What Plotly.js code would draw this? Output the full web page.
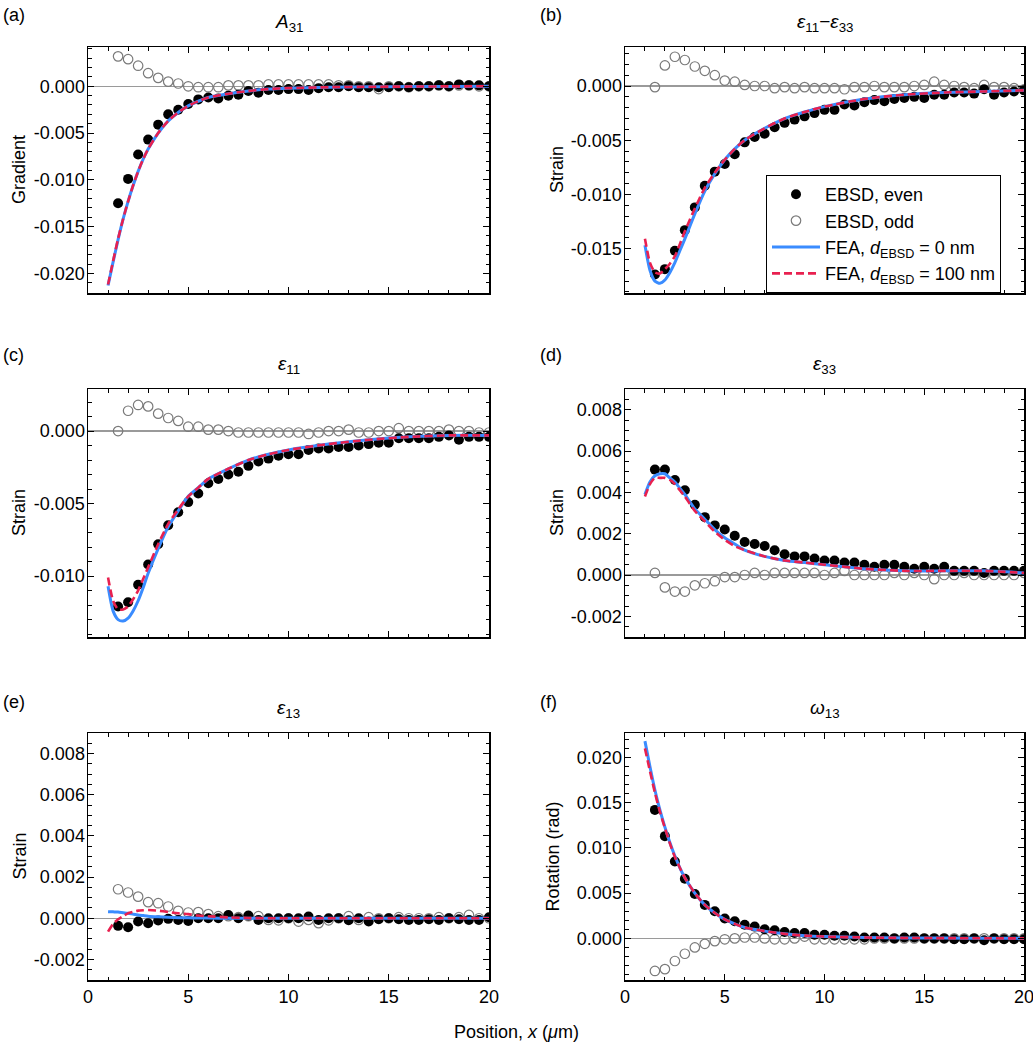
<!DOCTYPE html>
<html>
<head>
<meta charset="utf-8">
<script src="https://cdn.plot.ly/plotly-3.0.1.min.js"></script>
<style>html,body{margin:0;padding:0;background:#fff;}#chart{width:1033px;height:1050px;}</style>
</head>
<body>
<div id="chart"></div>
<script>
// ---------- DATA ----------
const xObs = [1.5,2,2.5,3,3.5,4,4.5,5,5.5,6,6.5,7,7.5,8,8.5,9,9.5,10,10.5,11,11.5,12,12.5,13,13.5,14,14.5,15,15.5,16,16.5,17,17.5,18,18.5,19,19.5,20];
const xFea = [1,1.25,1.5,1.75,2,2.25,2.5,2.75,3,3.5,4,4.5,5,5.5,6,7,8,9,10,12,14,16,18,20];

// (a) A31
const aEven = [-0.0125,-0.0099,-0.0073,-0.0057,-0.0041,-0.0030,-0.0025,-0.0019,-0.0014,-0.0012,-0.0013,-0.0010,-0.0009,-0.0005,-0.0007,-0.0004,-0.0004,-0.0003,-0.0003,-0.0004,-0.0002,-0.0001,-0.0001,0,-0.0001,-0.0001,-0.0001,-0.0001,0,-0.0001,0,0,0.0001,0,0.0002,0.0001,0.0001,0];
const aOdd  = [0.0032,0.0029,0.0022,0.0014,0.0009,0.0005,0.0003,0,-0.0001,-0.0001,-0.0001,0.0001,0.0001,0.0001,0.0001,0.0002,0.0002,0.0002,0.0002,0.0002,0.0002,0.0002,0.0001,0.0001,0,0,-0.0003,0,0,-0.0001,0,0,0.0001,0,0.0001,0.0001,0,0];
const aFea0   = [-0.0213,-0.0188,-0.0164,-0.0142,-0.0123,-0.0106,-0.0091,-0.0078,-0.0067,-0.0050,-0.0037,-0.0028,-0.0021,-0.0016,-0.0012,-0.0008,-0.0005,-0.0003,-0.0002,-0.0001,-0.00005,-0.00003,-0.00001,0];
const aFea100 = [-0.0212,-0.0187,-0.0163,-0.0142,-0.0123,-0.0106,-0.0091,-0.0078,-0.0067,-0.0050,-0.0037,-0.0028,-0.0021,-0.0016,-0.0012,-0.0008,-0.0005,-0.0003,-0.0002,-0.0001,-0.00005,-0.00003,-0.00001,0];

// (b) e11 - e33
const bEven = [-0.0174,-0.0169,-0.0152,-0.0133,-0.0112,-0.0092,-0.0079,-0.0072,-0.0063,-0.0052,-0.0047,-0.0044,-0.0038,-0.0034,-0.0031,-0.0028,-0.0025,-0.0022,-0.0022,-0.0017,-0.0018,-0.0015,-0.0013,-0.0014,-0.0012,-0.0011,-0.0010,-0.0011,-0.0008,-0.0008,-0.0006,-0.0006,-0.0007,-0.0003,-0.0008,-0.0006,-0.0005,-0.0004];
const bOdd  = [-0.0001,0.0019,0.0027,0.0024,0.0018,0.0014,0.0010,0.0005,0.0004,0.0001,0,0,-0.0002,-0.0001,-0.0002,-0.0001,-0.0002,-0.0002,-0.0002,-0.0003,-0.0001,-0.0001,0,-0.0001,-0.0001,-0.0001,0,0.0001,0.0004,0.0001,0,-0.0001,-0.0002,0.0001,-0.0001,-0.0001,-0.0002,-0.0003];
const bFea0   = [-0.0147,-0.0170,-0.0180,-0.0182,-0.0179,-0.0172,-0.0163,-0.0152,-0.0141,-0.0118,-0.0097,-0.0081,-0.0068,-0.0058,-0.0050,-0.0039,-0.0030,-0.0024,-0.0019,-0.0012,-0.0008,-0.0006,-0.0005,-0.0004];
const bFea100 = [-0.0141,-0.0163,-0.0172,-0.0173,-0.0169,-0.0164,-0.0157,-0.0146,-0.0134,-0.0113,-0.0094,-0.0080,-0.0068,-0.0058,-0.0050,-0.0039,-0.0030,-0.0024,-0.0019,-0.0012,-0.0008,-0.0006,-0.0005,-0.0004];

// (c) e11
const cEven = [-0.0121,-0.0118,-0.0106,-0.0092,-0.0078,-0.0065,-0.0056,-0.0049,-0.0043,-0.0036,-0.0033,-0.0030,-0.0028,-0.0024,-0.0021,-0.0019,-0.0017,-0.0016,-0.0016,-0.0013,-0.0012,-0.0012,-0.0011,-0.0011,-0.0010,-0.0009,-0.0008,-0.0008,-0.0005,-0.0005,-0.0005,-0.0005,-0.0004,-0.0003,-0.0006,-0.0004,-0.0004,-0.0004];
const cOdd  = [0,0.0014,0.0018,0.0017,0.0012,0.0009,0.0007,0.0003,0.0003,0.0001,0.0001,0,-0.0001,-0.0001,-0.0001,-0.0001,-0.0001,-0.0001,-0.0001,-0.0002,-0.0001,0,0,0.0001,-0.0001,-0.0001,0,0,0.0002,0,0,0,0,0.0001,0,0,-0.0001,-0.0001];
const cFea0   = [-0.0107,-0.0124,-0.0130,-0.0131,-0.0129,-0.0124,-0.0117,-0.0108,-0.0098,-0.0081,-0.0066,-0.0055,-0.0045,-0.0039,-0.0033,-0.0026,-0.0020,-0.0016,-0.0013,-0.0009,-0.0006,-0.0004,-0.0003,-0.0003];
const cFea100 = [-0.0101,-0.0117,-0.0123,-0.0123,-0.0121,-0.0116,-0.0110,-0.0102,-0.0094,-0.0078,-0.0064,-0.0054,-0.0045,-0.0039,-0.0033,-0.0026,-0.0020,-0.0016,-0.0013,-0.0009,-0.0006,-0.0004,-0.0003,-0.0003];

// (d) e33
const dEven = [0.0051,0.0051,0.0046,0.0041,0.0034,0.0028,0.0024,0.0022,0.0019,0.0016,0.0015,0.0014,0.0012,0.0010,0.0009,0.0009,0.0008,0.0007,0.0007,0.0006,0.0006,0.0005,0.0004,0.0005,0.0005,0.0004,0.0003,0.0004,0.0003,0.0004,0.0002,0.0002,0.0002,0.0001,0.0002,0.0002,0.0002,0.0002];
const dOdd  = [0.0001,-0.0006,-0.0008,-0.0008,-0.0005,-0.0004,-0.0003,-0.0001,-0.0001,0,0.0001,0,0.0001,0.0001,0.0001,0.0001,0.0001,0,0.0001,0.0002,0,0,0,0,0.0001,0,0.0001,0,-0.0002,0,0,0.0001,0,0,0,0,0,0.0001];
const dFea0   = [0.0039,0.0045,0.0048,0.0049,0.0049,0.0047,0.0045,0.0042,0.0039,0.0032,0.0027,0.0022,0.0018,0.0015,0.0012,0.0009,0.0007,0.0006,0.0005,0.0003,0.0002,0.0002,0.0002,0.0001];
const dFea100 = [0.0038,0.0044,0.0047,0.0047,0.0047,0.0046,0.0044,0.0041,0.0038,0.0031,0.0026,0.0021,0.0017,0.0014,0.0012,0.0009,0.0007,0.0006,0.0005,0.0003,0.0002,0.0002,0.0002,0.0001];

// (e) e13
const eEven = [-0.00037,-0.00044,-0.00016,-0.00024,-0.00011,-0.00003,-0.00008,-0.00013,0,0,0,0.00016,0,0.00013,-0.00008,0,0,0,0,0.00008,-0.00008,0,0,-0.0001,0,-0.00016,-0.00005,0,-0.00005,-0.00008,-0.00008,-0.00005,-0.00008,0,-0.00005,-0.00008,-0.00008,0.00005];
const eOdd  = [0.00141,0.00125,0.00105,0.00078,0.00073,0.00057,0.00036,0.00028,0.0003,0.0002,0.0001,0.0001,0.00005,0.0001,0.0001,-0.00008,-0.0001,0,-0.00016,-0.00008,-0.00024,-0.0001,0,0.0001,-0.00008,0.00005,0,0,0.00005,0,0,0,0.00005,0,0.00005,0.00016,0,0];
const eFea0   = [0.00032,0.00031,0.0003,0.00027,0.00024,0.0002,0.00016,0.00013,0.0001,0.00007,0.00005,0.00003,0.00002,0.00001,0.00001,0,0,0,0,0,0,0,0,0];
const eFea100 = [-0.00065,-0.00028,-0.00005,0.0001,0.00024,0.00031,0.00037,0.00039,0.0004,0.00037,0.0003,0.00024,0.0002,0.00013,0.0001,0.00004,0.00001,0,0,0,0,0,0,0];

// (f) w13
const fEven = [0.0142,0.0113,0.0085,0.0066,0.0049,0.0037,0.0030,0.0022,0.0019,0.0015,0.0013,0.0010,0.0009,0.0007,0.0006,0.0006,0.0004,0.0004,0.0003,0.0003,0.0002,0.0001,0.0001,0.0001,0,0.0001,0.0001,0,0,0,-0.0001,-0.0001,0,-0.0002,0,-0.0001,-0.0001,-0.0001];
const fOdd  = [-0.0036,-0.0034,-0.0025,-0.0017,-0.0010,-0.0006,-0.0003,-0.0001,0,0.0001,0.0001,0,-0.0001,-0.0001,0,0.0002,-0.0001,-0.0001,-0.0001,-0.0001,-0.0001,-0.0001,0,0,0,0,0,0,0,0,0,0,0,0,0,0,0,0];
const fFea0   = [0.0218,0.0190,0.0164,0.0142,0.0123,0.0106,0.0091,0.0078,0.0067,0.0050,0.0037,0.0028,0.0021,0.0016,0.0012,0.0008,0.0005,0.0003,0.0002,0.0001,0.00005,0.00003,0.00001,0];
const fFea100 = [0.0210,0.0185,0.0161,0.0140,0.0122,0.0105,0.0090,0.0078,0.0067,0.0050,0.0037,0.0028,0.0021,0.0016,0.0012,0.0008,0.0005,0.0003,0.0002,0.0001,0.00005,0.00003,0.00001,0];

// tick labels
const xTickVals = [0,5,10,15,20];
const xTickText = ['0','5','10','15','20'];
const yTickA = [-0.020,-0.015,-0.010,-0.005,0];
const yTickAText = ['-0.020','-0.015','-0.010','-0.005','0.000'];
const yTickB = [-0.015,-0.010,-0.005,0];
const yTickBText = ['-0.015','-0.010','-0.005','0.000'];
const yTickC = [-0.010,-0.005,0];
const yTickCText = ['-0.010','-0.005','0.000'];
const yTickDE = [-0.002,0,0.002,0.004,0.006,0.008];
const yTickDEText = ['-0.002','0.000','0.002','0.004','0.006','0.008'];
const yTickF = [0,0.005,0.010,0.015,0.020];
const yTickFText = ['0.000','0.005','0.010','0.015','0.020'];

const panelLabels = ['(a)','(b)','(c)','(d)','(e)','(f)'];
const panelTitles = ['<i>A</i><sub>31</sub>','<i>ε</i><sub>11</sub>−<i>ε</i><sub>33</sub>','<i>ε</i><sub>11</sub>','<i>ε</i><sub>33</sub>','<i>ε</i><sub>13</sub>','<i>ω</i><sub>13</sub>'];
const yTitles = ['Gradient','Strain','Strain','Strain','Strain','Rotation (rad)'];
const seriesNames = ['EBSD, even','EBSD, odd','FEA, <i>d</i><sub>EBSD</sub> = 0 nm','FEA, <i>d</i><sub>EBSD</sub> = 100 nm'];
const xTitle = 'Position, <i>x</i> (<i>μ</i>m)';

// ---------- STYLE / LAYOUT ----------
const W = 1033, H = 1050;
const FONT = 'Liberation Sans, Arial, sans-serif';
const FS = 18;
const BLUE = '#3a8cff', RED = '#e8204f';

const panels = [
  {even:aEven, odd:aOdd, f0:aFea0, f1:aFea100, range:[-0.0221,0.0042], tv:yTickA, tt:yTickAText, minor:0.001},
  {even:bEven, odd:bOdd, f0:bFea0, f1:bFea100, range:[-0.0191,0.0036], tv:yTickB, tt:yTickBText, minor:0.001},
  {even:cEven, odd:cOdd, f0:cFea0, f1:cFea100, range:[-0.0142,0.0029], tv:yTickC, tt:yTickCText, minor:0.001},
  {even:dEven, odd:dOdd, f0:dFea0, f1:dFea100, range:[-0.0030,0.0090], tv:yTickDE, tt:yTickDEText, minor:0.0005},
  {even:eEven, odd:eOdd, f0:eFea0, f1:eFea100, range:[-0.0030,0.0090], tv:yTickDE, tt:yTickDEText, minor:0.0005},
  {even:fEven, odd:fOdd, f0:fFea0, f1:fFea100, range:[-0.0046,0.0227], tv:yTickF, tt:yTickFText, minor:0.001}
];

// pixel boxes [left, right, top, bottom]
const colX = [[88,489],[625,1024]];
const rowY = [[47,293],[389,637],[733,980]];
const labelPos = [[1,15],[538,15],[1,355],[538,355],[1,702],[538,702]];
const yTitleX = [19,557,19,557,19,552];

const traces = [];
const layout = {
  width: W, height: H,
  margin: {l:0,r:0,t:0,b:0},
  paper_bgcolor:'#fff', plot_bgcolor:'#fff',
  font: {family: FONT, size: FS, color:'#000'},
  showlegend: true,
  legend: {x: 766/W, y: 1-175/H, xanchor:'left', yanchor:'top', bordercolor:'#000', borderwidth:1,
           bgcolor:'#fff', font:{family:FONT,size:FS,color:'#000'}, tracegroupgap:0, itemwidth:48},
  annotations: [],
  hovermode: false
};

panels.forEach((p, i) => {
  const col = i % 2, row = Math.floor(i / 2);
  const [l, r] = colX[col];
  const [t, b] = rowY[row];
  const xa = i === 0 ? 'x' : 'x' + (i + 1);
  const ya = i === 0 ? 'y' : 'y' + (i + 1);
  const xk = i === 0 ? 'xaxis' : 'xaxis' + (i + 1);
  const yk = i === 0 ? 'yaxis' : 'yaxis' + (i + 1);
  const showLeg = (i === 1);
  traces.push({x:xObs, y:p.odd, xaxis:xa, yaxis:ya, type:'scatter', mode:'markers', name:seriesNames[1],
    legendrank:2, showlegend:showLeg,
    marker:{symbol:'circle-open', size:9.5, color:'#7a7a7a', line:{width:1.2, color:'#7a7a7a'}}});
  traces.push({x:xObs, y:p.even, xaxis:xa, yaxis:ya, type:'scatter', mode:'markers', name:seriesNames[0],
    legendrank:1, showlegend:showLeg, marker:{symbol:'circle', size:10, color:'#000'}});
  traces.push({x:xFea, y:p.f0, xaxis:xa, yaxis:ya, type:'scatter', mode:'lines', name:seriesNames[2],
    legendrank:3, showlegend:showLeg, line:{color:BLUE, width:3, shape:'spline', smoothing:0.6}});
  traces.push({x:xFea, y:p.f1, xaxis:xa, yaxis:ya, type:'scatter', mode:'lines', name:seriesNames[3],
    legendrank:4, showlegend:showLeg, line:{color:RED, width:2.6, dash:'8px,4px', shape:'spline', smoothing:0.6}});

  layout[xk] = {
    domain:[l/W, r/W], anchor: ya, range:[0,20],
    tickmode:'array', tickvals:xTickVals, ticktext:xTickText,
    showticklabels: row === 2, ticklabeloverflow:'allow',
    ticks:'inside', ticklen:6, tickwidth:1, tickcolor:'#000',
    minor:{ticks:'inside', dtick:1, tick0:0, ticklen:3.5, tickwidth:1, tickcolor:'#000', showgrid:false},
    showline:true, linecolor:'#000', linewidth:1.5, mirror:'ticks',
    showgrid:false, zeroline:false, fixedrange:true,
    tickfont:{family:FONT, size:FS, color:'#000'}
  };
  layout[yk] = {
    domain:[1-b/H, 1-t/H], anchor: xa, range:p.range,
    tickmode:'array', tickvals:p.tv, ticktext:p.tt, ticklabeloverflow:'allow',
    ticks:'inside', ticklen:6, tickwidth:1, tickcolor:'#000',
    minor:{ticks:'inside', dtick:p.minor, tick0:0, ticklen:3.5, tickwidth:1, tickcolor:'#000', showgrid:false},
    showline:true, linecolor:'#000', linewidth:1.5, mirror:'ticks',
    showgrid:false, zeroline:true, zerolinecolor:'#9a9a9a', zerolinewidth:1.2, fixedrange:true,
    tickfont:{family:FONT, size:FS, color:'#000'}, ticklabelstandoff:-2
  };

  layout.annotations.push({xref:'paper', yref:'paper', x:labelPos[i][0]/W, y:1-labelPos[i][1]/H,
    xanchor:'left', yanchor:'middle', text:panelLabels[i], showarrow:false, font:{family:FONT,size:FS,color:'#000'}});
  layout.annotations.push({xref:'paper', yref:'paper', x:(l+r)/2/W, y:1-(t-24)/H,
    xanchor:'center', yanchor:'middle', text:panelTitles[i], showarrow:false, font:{family:FONT,size:19,color:'#000'}});
  layout.annotations.push({xref:'paper', yref:'paper', x:yTitleX[i]/W, y:1-(t+b)/2/H,
    xanchor:'center', yanchor:'middle', textangle:-90, text:yTitles[i], showarrow:false, font:{family:FONT,size:FS,color:'#000'}});
});

layout.annotations.push({xref:'paper', yref:'paper', x:516/W, y:1-1032/H, xanchor:'center', yanchor:'middle',
  text:xTitle, showarrow:false, font:{family:FONT,size:FS,color:'#000'}});

Plotly.newPlot('chart', traces, layout, {displayModeBar:false, staticPlot:true});
</script>
</body>
</html>
